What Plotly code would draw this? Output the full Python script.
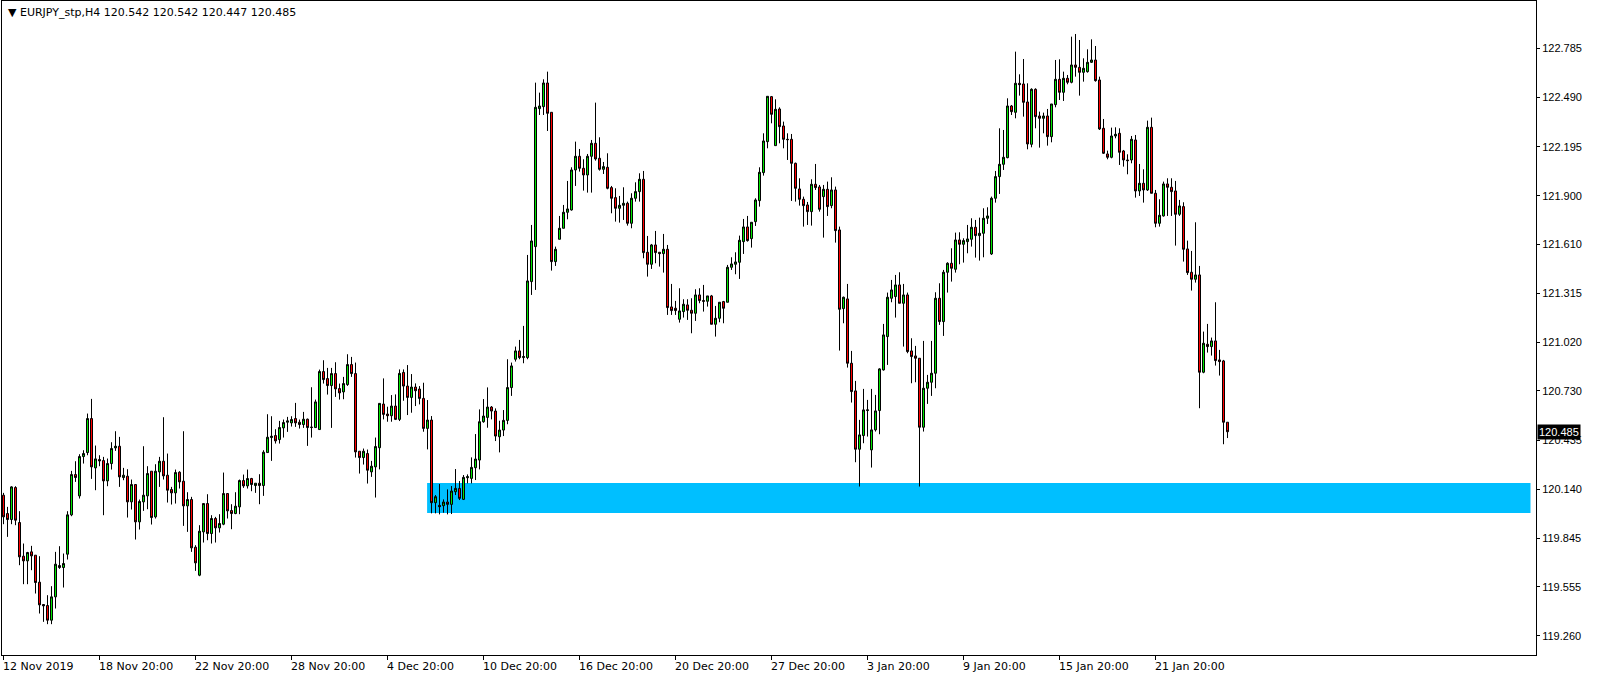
import plotly.graph_objects as go

# ---- EURJPY H4 candles (bar index 0 = first visible bar) ----
opens = [
 120.104,119.994,119.958,120.150,119.940,119.738,119.710,119.764,119.744,119.582,
 119.448,119.442,119.354,119.494,119.682,119.670,119.750,119.986,120.228,120.100,
 120.336,120.360,120.564,120.268,120.318,120.312,120.190,120.294,120.388,120.398,
 120.210,120.218,120.064,120.168,119.944,120.064,120.100,120.248,119.974,120.244,
 120.308,120.224,120.138,120.118,120.242,120.188,120.040,120.078,119.792,119.624,
 119.884,120.054,119.874,119.964,119.908,119.930,120.114,120.012,119.994,120.034,
 120.192,120.160,120.204,120.162,120.176,120.162,120.360,120.450,120.462,120.438,
 120.508,120.542,120.538,120.564,120.542,120.528,120.560,120.510,120.510,120.498,
 120.846,120.804,120.762,120.834,120.744,120.724,120.768,120.888,120.834,120.368,
 120.330,120.354,120.244,120.274,120.389,120.651,120.591,120.581,120.639,120.559,
 120.841,120.759,120.691,120.753,120.741,120.685,120.505,120.555,120.059,120.043,
 120.041,120.063,120.049,120.125,120.145,120.079,120.209,120.205,120.269,120.315,
 120.545,120.571,120.633,120.609,120.455,120.495,120.553,120.750,120.920,120.970,
 120.930,120.930,121.386,121.596,122.424,122.436,122.578,122.402,121.506,121.640,
 121.706,121.802,121.816,122.056,122.138,122.066,122.026,122.138,122.216,122.126,
 122.060,122.072,121.950,121.890,121.826,121.844,121.856,121.736,121.886,121.926,
 122.000,121.562,121.490,121.606,121.562,121.554,121.580,121.234,121.226,121.160,
 121.206,121.246,121.214,121.196,121.306,121.272,121.268,121.300,121.130,121.166,
 121.266,121.262,121.472,121.490,121.502,121.626,121.714,121.644,121.746,121.872,
 122.040,122.226,122.496,122.202,122.422,122.320,122.240,122.240,122.096,121.942,
 121.880,121.846,121.806,121.970,121.954,121.896,121.940,121.842,121.936,121.696,
 121.224,121.282,120.896,120.730,120.380,120.462,120.612,120.376,120.496,120.612,
 120.856,121.056,121.286,121.296,121.366,121.256,121.306,120.970,120.940,120.926,
 120.512,120.746,120.782,120.836,121.286,121.146,121.442,121.496,121.460,121.636,
 121.610,121.626,121.640,121.712,121.662,121.676,121.766,121.552,121.886,122.016,
 122.090,122.130,122.440,122.402,122.576,122.572,122.464,122.210,122.540,122.380,
 122.366,122.380,122.256,122.448,122.600,122.522,122.606,122.582,122.686,122.672,
 122.642,122.646,122.702,122.716,122.596,122.306,122.152,122.132,122.260,122.276,
 122.170,122.116,122.116,122.236,121.930,121.976,121.936,122.312,121.916,121.736,
 121.780,121.972,121.952,121.930,121.790,121.836,121.582,121.442,121.400,121.426,
 120.842,121.010,120.996,121.030,120.916,120.910,120.542]

highs = [
 120.118,120.034,120.158,120.158,120.008,119.814,119.764,119.800,119.744,119.738,
 119.448,119.504,119.558,119.764,119.798,119.754,120.008,120.250,120.308,120.350,
 120.374,120.594,120.682,120.402,120.344,120.334,120.324,120.422,120.488,120.454,
 120.268,120.260,120.198,120.168,120.078,120.398,120.278,120.248,120.290,120.334,
 120.572,120.354,120.154,120.258,120.248,120.488,120.122,120.094,119.804,119.924,
 120.054,120.110,119.984,119.974,119.990,120.240,120.114,120.050,120.122,120.198,
 120.228,120.258,120.208,120.176,120.230,120.374,120.590,120.578,120.500,120.550,
 120.558,120.574,120.578,120.658,120.558,120.604,120.564,120.752,120.678,120.858,
 120.914,120.868,120.868,120.902,120.774,120.814,120.950,120.934,120.900,120.368,
 120.384,120.378,120.310,120.450,120.655,120.805,120.635,120.705,120.709,120.859,
 120.859,120.885,120.831,120.775,120.759,120.779,120.675,120.579,120.105,120.171,
 120.079,120.139,120.159,120.261,120.189,120.225,120.229,120.331,120.471,120.619,
 120.681,120.751,120.639,120.625,120.551,120.615,120.920,120.900,120.996,121.036,
 121.120,121.546,121.726,122.580,122.520,122.600,122.646,122.402,121.596,121.780,
 121.846,121.990,122.072,122.226,122.182,122.120,122.152,122.236,122.460,122.252,
 122.104,122.156,121.960,121.946,121.900,121.952,121.866,121.916,121.982,122.036,
 122.050,121.660,121.612,121.690,121.562,121.672,121.606,121.372,121.270,121.346,
 121.280,121.280,121.286,121.340,121.346,121.366,121.300,121.306,121.240,121.262,
 121.270,121.486,121.532,121.562,121.662,121.762,121.780,121.742,121.886,122.072,
 122.276,122.498,122.500,122.480,122.432,122.346,122.276,122.272,122.100,122.006,
 121.896,121.864,122.000,122.092,121.966,121.966,121.986,122.012,121.956,121.716,
 121.296,121.372,120.970,120.790,120.556,120.742,120.676,120.742,120.706,120.866,
 121.132,121.320,121.396,121.426,121.442,121.372,121.320,121.046,121.000,120.926,
 121.030,120.826,121.030,121.322,121.376,121.456,121.502,121.586,121.680,121.682,
 121.646,121.726,121.766,121.756,121.770,121.826,121.832,121.896,122.050,122.306,
 122.296,122.486,122.446,122.766,122.630,122.722,122.576,122.546,122.546,122.406,
 122.400,122.422,122.452,122.716,122.720,122.646,122.626,122.856,122.872,122.836,
 122.726,122.780,122.840,122.800,122.616,122.362,122.172,122.310,122.312,122.306,
 122.176,122.150,122.260,122.266,122.092,122.060,122.352,122.370,121.936,121.880,
 121.986,122.006,122.006,121.990,121.876,121.862,121.632,121.570,121.742,121.480,
 121.086,121.132,121.050,121.262,120.976,120.916,120.542]

lows = [
 119.930,119.854,119.930,119.924,119.684,119.570,119.570,119.654,119.514,119.394,
 119.344,119.330,119.330,119.424,119.662,119.550,119.718,119.978,120.184,120.084,
 120.294,120.344,120.202,120.134,120.278,119.984,120.158,120.258,120.370,120.154,
 120.194,119.970,120.018,119.838,119.898,120.010,120.020,119.928,119.964,120.154,
 120.198,120.060,120.048,120.054,120.144,119.920,119.884,119.764,119.650,119.618,
 119.820,119.834,119.814,119.820,119.880,119.924,119.964,119.900,119.990,119.990,
 120.148,120.144,120.128,120.118,120.050,120.100,120.360,120.310,120.414,120.414,
 120.450,120.484,120.516,120.514,120.504,120.508,120.400,120.450,120.508,120.498,
 120.774,120.708,120.508,120.694,120.678,120.680,120.760,120.814,120.330,120.234,
 120.288,120.174,120.214,120.090,120.259,120.559,120.545,120.545,120.555,120.549,
 120.671,120.585,120.599,120.639,120.649,120.485,120.379,119.995,119.995,119.989,
 119.999,119.989,119.991,120.105,120.075,120.075,120.175,120.175,120.195,120.259,
 120.539,120.509,120.559,120.429,120.361,120.459,120.530,120.700,120.906,120.920,
 120.896,120.920,121.306,121.336,122.386,122.386,122.290,121.452,121.480,121.640,
 121.706,121.760,121.812,121.960,122.046,121.932,121.920,121.920,122.112,122.052,
 122.032,121.940,121.796,121.746,121.740,121.756,121.722,121.706,121.866,121.866,
 121.526,121.416,121.462,121.496,121.476,121.440,121.186,121.186,121.186,121.140,
 121.170,121.156,121.076,121.150,121.256,121.206,121.236,121.130,121.056,121.142,
 121.136,121.262,121.456,121.430,121.402,121.552,121.626,121.590,121.720,121.836,
 122.022,122.186,122.336,122.202,122.216,122.186,122.116,121.870,121.866,121.842,
 121.716,121.726,121.722,121.936,121.806,121.650,121.780,121.826,121.620,120.972,
 121.136,120.870,120.660,120.302,120.156,120.416,120.456,120.270,120.486,120.470,
 120.852,120.886,121.262,121.170,121.256,120.996,120.956,120.776,120.782,120.156,
 120.486,120.652,120.700,120.746,121.126,121.060,121.320,121.386,121.440,121.490,
 121.500,121.556,121.596,121.530,121.512,121.532,121.732,121.546,121.860,121.912,
 122.056,122.126,122.386,122.366,122.502,122.376,122.180,122.192,122.306,122.190,
 122.276,122.202,122.222,122.432,122.476,122.470,122.570,122.576,122.616,122.502,
 122.586,122.640,122.698,122.586,122.296,122.152,122.120,122.126,122.246,122.086,
 122.076,122.030,122.096,121.890,121.900,121.860,121.930,121.916,121.712,121.716,
 121.776,121.780,121.780,121.602,121.780,121.506,121.426,121.332,121.380,120.626,
 120.836,120.960,120.942,120.882,120.822,120.410,120.447]

closes = [
 119.974,119.958,120.154,119.954,119.734,119.710,119.760,119.740,119.580,119.446,
 119.440,119.354,119.494,119.690,119.670,119.694,119.986,120.228,120.210,120.336,
 120.354,120.564,120.274,120.322,120.310,120.190,120.294,120.384,120.398,120.214,
 120.224,120.064,120.168,119.944,120.066,120.104,120.234,119.970,120.248,120.308,
 120.220,120.134,120.118,120.240,120.184,120.040,120.078,119.788,119.698,119.888,
 120.054,119.874,119.964,119.908,119.934,120.114,120.010,119.994,120.038,120.192,
 120.160,120.204,120.168,120.176,120.162,120.362,120.452,120.458,120.430,120.510,
 120.540,120.550,120.558,120.538,120.528,120.560,120.510,120.512,120.664,120.846,
 120.798,120.762,120.834,120.742,120.718,120.774,120.888,120.834,120.364,120.330,
 120.368,120.254,120.278,120.396,120.655,120.589,120.581,120.639,120.559,120.835,
 120.759,120.691,120.753,120.731,120.685,120.505,120.555,120.059,120.095,120.035,
 120.063,120.049,120.129,120.145,120.085,120.211,120.215,120.271,120.321,120.545,
 120.579,120.633,120.609,120.459,120.495,120.553,120.750,120.880,120.970,120.930,
 120.936,121.390,121.630,122.432,122.440,122.578,122.396,121.506,121.580,121.706,
 121.802,121.822,122.056,122.138,122.066,122.026,122.138,122.216,122.122,122.060,
 122.076,121.946,121.886,121.826,121.844,121.856,121.736,121.886,121.926,122.000,
 121.560,121.490,121.606,121.560,121.554,121.580,121.230,121.212,121.212,121.210,
 121.250,121.214,121.196,121.306,121.272,121.268,121.300,121.130,121.166,121.262,
 121.226,121.472,121.492,121.504,121.634,121.714,121.632,121.742,121.876,122.042,
 122.230,122.498,122.390,122.420,122.316,122.240,122.238,122.096,121.946,121.880,
 121.842,121.806,121.970,121.950,121.820,121.940,121.836,121.936,121.692,121.220,
 121.292,120.896,120.726,120.380,120.466,120.616,120.616,120.496,120.610,120.862,
 121.066,121.292,121.336,121.366,121.256,121.306,120.966,120.936,120.926,120.512,
 120.746,120.782,120.836,121.286,121.146,121.442,121.496,121.466,121.636,121.610,
 121.632,121.642,121.712,121.662,121.676,121.766,121.780,121.886,122.016,122.090,
 122.132,122.440,122.406,122.576,122.568,122.462,122.212,122.540,122.376,122.366,
 122.380,122.256,122.452,122.600,122.522,122.606,122.582,122.686,122.672,122.642,
 122.666,122.702,122.716,122.592,122.302,122.156,122.132,122.260,122.270,122.162,
 122.116,122.112,122.240,121.930,121.976,121.936,122.312,121.916,121.736,121.784,
 121.972,121.952,121.926,121.790,121.840,121.580,121.440,121.400,121.426,120.842,
 121.016,120.996,121.030,120.912,120.906,120.542,120.485]

# time-axis labels (bar index where each label starts)
date_label_bars = [0, 24, 48, 72, 96, 120, 144, 168, 192, 216, 240, 264, 288]
date_labels = ["12 Nov 2019", "18 Nov 20:00", "22 Nov 20:00", "28 Nov 20:00",
               "4 Dec 20:00", "10 Dec 20:00", "16 Dec 20:00", "20 Dec 20:00",
               "27 Dec 20:00", "3 Jan 20:00", "9 Jan 20:00", "15 Jan 20:00",
               "21 Jan 20:00"]

# price-axis labels
price_labels = ["122.785", "122.490", "122.195", "121.900", "121.610", "121.315",
                "121.020", "120.730", "120.435", "120.140", "119.845", "119.555",
                "119.260"]
price_ticks = [float(s) for s in price_labels]

# support zone (bar index span, price span)
zone_bars = [105.9, 381.75]
zone_prices = [119.997, 120.177]

symbol_title = "EURJPY_stp,H4"
last_bar = {"open": 120.542, "high": 120.542, "low": 120.447, "close": 120.485}

x_range = [-0.375, 383.125]
y_range = [119.145, 123.070]

bars = list(range(len(opens)))

AXFONT = "Liberation Sans"
TXFONT = "DejaVu Sans"

fig = go.Figure()
fig.add_trace(go.Candlestick(
    x=bars, open=opens, high=highs, low=lows, close=closes,
    increasing=dict(line=dict(color="black", width=1), fillcolor="#00e600"),
    decreasing=dict(line=dict(color="black", width=1), fillcolor="#ff0000"),
    whiskerwidth=0, hoverinfo="skip", showlegend=False,
))

fig.add_shape(type="rect", xref="x", yref="y",
              x0=zone_bars[0], x1=zone_bars[1], y0=zone_prices[0], y1=zone_prices[1],
              fillcolor="#00bfff", line=dict(width=0), layer="below")

annotations = []
for b, t in zip(date_label_bars, date_labels):
    annotations.append(dict(x=b, y=0, xref="x", yref="paper", text=t, showarrow=False,
                            xanchor="left", yanchor="top", xshift=-3, yshift=-3,
                            font=dict(family=TXFONT, size=11, color="black")))

annotations.append(dict(
    x=0, y=1, xref="paper", yref="paper", xanchor="left", yanchor="top",
    xshift=4, yshift=-3, showarrow=False,
    text="▼ %s %.3f %.3f %.3f %.3f" % (symbol_title, last_bar["open"], last_bar["high"],
                                        last_bar["low"], last_bar["close"]),
    font=dict(family=TXFONT, size=11, color="black")))

annotations.append(dict(
    x=1, y=last_bar["close"], xref="paper", yref="y", xanchor="left", yanchor="middle",
    xshift=1, showarrow=False, text="%.3f" % last_bar["close"], bgcolor="black",
    borderpad=1, font=dict(family=AXFONT, size=11, color="white")))

fig.update_layout(
    width=1604, height=679,
    margin=dict(l=2, r=68, t=1, b=24),
    paper_bgcolor="white", plot_bgcolor="white",
    boxgap=0.5, boxgroupgap=0,
    showlegend=False,
    annotations=annotations,
    xaxis=dict(range=x_range, showgrid=False, zeroline=False, showline=True, mirror=True,
               linecolor="black", linewidth=1, ticks="outside", ticklen=4, tickcolor="black",
               tickvals=date_label_bars, showticklabels=False,
               rangeslider=dict(visible=False), fixedrange=True),
    yaxis=dict(range=y_range, side="right", showgrid=False, zeroline=False, showline=True,
               mirror=True, linecolor="black", linewidth=1, ticks="outside", ticklen=3,
               tickcolor="black", tickvals=price_ticks, ticktext=price_labels,
               tickfont=dict(family=AXFONT, size=11, color="black"), fixedrange=True),
)

fig.write_html("out.html", config={"displayModeBar": False},
               post_script="document.body.style.margin='0';document.body.style.overflow='hidden';")
